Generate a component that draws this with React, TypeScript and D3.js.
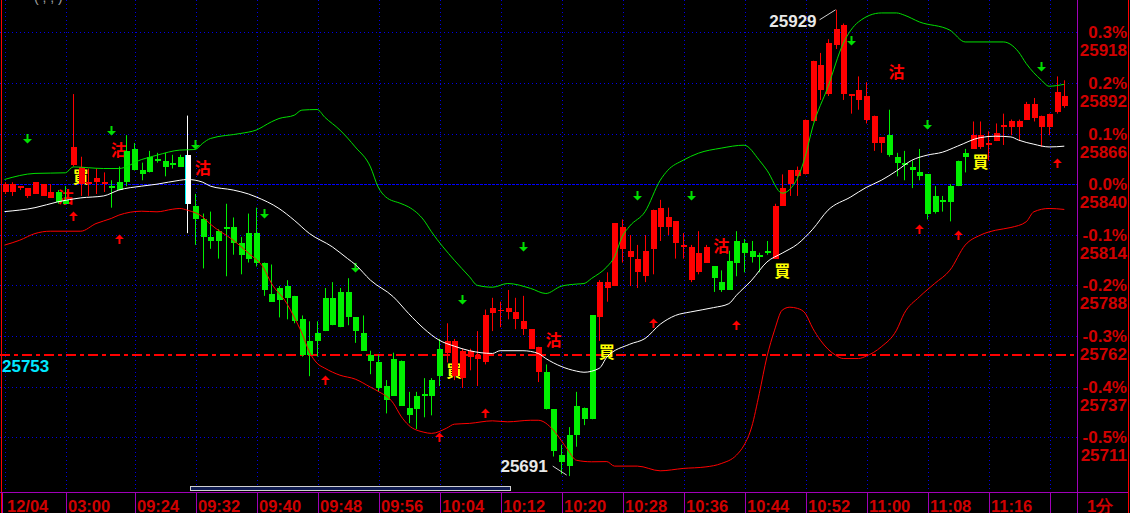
import React, { useEffect } from 'react';
import * as d3 from 'd3';

const basePrice = 25840;
const refLinePrice = 25753;
const highMark = { i: 109, p: 25929 };
const lowMark = { i: 74, p: 25691 };
const highlightIndex = 24;

const opens = [25836,25836,25838,25834,25835,25834,25833,25836,25832,25850,25840,25840,25841,25840,25839,25841,25857,25858,25847,25854,25853,25852,25851,25854,25855,25829,25822,25813,25816,25818,25818,25810,25815,25815,25800,25784,25787,25788,25783,25771,25760,25764,25782,25782,25785,25785,25772,25764,25753,25749,25737,25751,25750,25726,25732,25733,25740,25756,25754,25742,25741,25752,25751,25749,25774,25776,25775,25771,25766,25756,25744,25744,25725,25702,25712,25727,25726,25773,25772,25787,25788,25807,25803,25795,25793,25807,25818,25818,25810,25808,25791,25795,25800,25798,25790,25801,25811,25810,25806,25804,25806,25802,25829,25840,25844,25845,25872,25888,25886,25911,25886,25885,25883,25873,25861,25861,25865,25854,25851,25849,25846,25845,25834,25832,25839,25852,25856,25858,25859,25860,25862,25869,25869,25869,25873,25874,25869,25869,25877,25880];
const highs = [25841,25841,25839,25838,25841,25840,25840,25837,25839,25886,25854,25848,25848,25846,25842,25849,25865,25861,25851,25857,25856,25856,25855,25855,25875,25835,25825,25826,25817,25830,25823,25813,25825,25828,25800,25799,25788,25791,25783,25773,25770,25770,25787,25790,25787,25792,25772,25773,25755,25753,25740,25754,25750,25734,25734,25741,25741,25761,25769,25761,25756,25756,25765,25776,25782,25780,25786,25782,25783,25766,25757,25748,25725,25707,25716,25734,25726,25773,25791,25795,25820,25822,25814,25809,25814,25827,25832,25828,25821,25815,25809,25816,25809,25798,25796,25806,25816,25812,25811,25805,25811,25830,25845,25847,25849,25873,25903,25907,25914,25929,25922,25886,25895,25892,25875,25864,25878,25856,25857,25852,25858,25845,25839,25834,25840,25852,25858,25872,25872,25867,25871,25876,25873,25873,25882,25884,25875,25876,25895,25893];
const lows = [25835,25834,25837,25833,25835,25834,25833,25830,25830,25849,25834,25834,25835,25836,25828,25837,25839,25847,25842,25846,25851,25844,25848,25849,25815,25809,25797,25807,25802,25793,25804,25794,25800,25798,25783,25780,25772,25771,25769,25752,25742,25752,25765,25768,25767,25768,25759,25755,25743,25734,25723,25732,25727,25718,25715,25721,25722,25737,25749,25740,25736,25745,25737,25748,25765,25767,25771,25766,25763,25756,25739,25725,25701,25692,25691,25706,25717,25720,25760,25780,25788,25800,25788,25787,25790,25794,25811,25814,25802,25802,25790,25794,25800,25785,25785,25786,25793,25795,25800,25795,25804,25802,25829,25834,25834,25845,25872,25883,25885,25909,25883,25876,25878,25871,25857,25856,25854,25844,25842,25838,25842,25822,25825,25826,25821,25839,25846,25858,25858,25852,25862,25860,25865,25862,25873,25872,25859,25865,25876,25879];
const closes = [25840,25840,25839,25838,25841,25840,25836,25831,25830,25859,25849,25841,25843,25841,25838,25837,25841,25847,25845,25846,25852,25849,25850,25849,25830,25822,25813,25811,25811,25817,25810,25804,25802,25800,25786,25780,25781,25782,25770,25753,25753,25760,25765,25768,25767,25772,25765,25755,25750,25736,25730,25732,25727,25722,25725,25732,25732,25742,25760,25760,25755,25755,25753,25773,25777,25776,25777,25775,25770,25766,25757,25725,25704,25698,25696,25712,25720,25720,25790,25790,25820,25818,25806,25802,25806,25827,25828,25823,25821,25809,25808,25805,25808,25792,25786,25786,25800,25805,25803,25803,25805,25829,25838,25847,25847,25873,25903,25901,25912,25919,25921,25886,25888,25885,25875,25864,25855,25851,25850,25847,25844,25825,25826,25831,25831,25839,25854,25865,25865,25861,25866,25870,25872,25872,25881,25881,25875,25876,25887,25885];

const upperBand: [number, number][] = [[0,25842.4],[4,25845.5],[8,25845.8],[9,25848.8],[13,25848],[15,25848],[18,25852.6],[20,25854.8],[23,25857.4],[25,25857.7],[26,25860.9],[27,25863.3],[31,25865.9],[33,25867.6],[35,25871.8],[36,25873.5],[38,25875.2],[39,25877.8],[41,25878.1],[42,25874.2],[44,25867.6],[46,25859],[48,25848.8],[49,25838.6],[50,25833.5],[52,25830.1],[53,25828.4],[55,25821.6],[56,25815.7],[59,25801.2],[61,25792.7],[62,25788.4],[64,25787.4],[66,25789.3],[69,25786.8],[71,25784.2],[73,25787.9],[75,25789],[76,25789.3],[77,25791.9],[79,25797.8],[80,25802.9],[81,25813.1],[82,25818.6],[84,25825.9],[86,25842],[87,25847.1],[89,25852.2],[91,25855.8],[94,25858.4],[97,25859.9],[99,25852.2],[100,25847.1],[102,25835.4],[104,25843.1],[105,25853.9],[106,25869.2],[108,25889.7],[110,25911.8],[111,25918.6],[112,25922.8],[115,25927.4],[117,25927.4],[118,25926.3],[120,25922.8],[124,25918.6],[126,25912.6],[131,25912.6],[133,25907.5],[134,25901.6],[136,25893.1],[137,25890],[139,25891]];
const middleBand: [number, number][] = [[0,25826],[4,25828],[7,25831],[10,25833],[13,25834],[15,25837],[18,25839],[20,25840],[23,25842],[24,25842.4],[26,25841],[27,25839],[30,25837],[32,25835],[33,25833.5],[36,25827.6],[38,25821.6],[40,25814.8],[43,25808],[45,25802],[46,25799],[48,25791],[51,25782.5],[53,25774],[55,25766.3],[57,25760.4],[59,25757.3],[61,25755],[64,25753.6],[65,25755],[68,25755],[70,25753.6],[71,25751],[73,25747],[75,25744.6],[76,25744],[78,25746],[79,25751.7],[82,25758.3],[84,25761.2],[86,25768.5],[88,25773],[90,25774.8],[93,25777],[95,25779],[96,25783.3],[98,25791],[100,25800.3],[102,25804.8],[104,25809.4],[106,25817],[108,25826.7],[111,25833.5],[113,25838.3],[115,25842],[117,25846.8],[119,25852.2],[121,25854.8],[123,25856.3],[125,25859.4],[128,25863.8],[130,25864.5],[132,25864.1],[133,25862.5],[135,25860.4],[137,25859],[139,25859.4]];
const lowerBand: [number, number][] = [[0,25808.9],[2,25811.4],[4,25814.8],[6,25816],[10,25816],[12,25819.9],[14,25822.5],[15,25824.2],[18,25826.2],[20,25825.9],[22,25827.2],[23,25827.6],[24,25826.7],[26,25823.3],[27,25819.6],[30,25811.4],[32,25804.8],[34,25797.1],[35,25789.5],[37,25779.3],[38,25772.1],[39,25764],[40,25754.3],[41,25748.6],[42,25746.1],[44,25742.5],[46,25740.5],[48,25736.4],[49,25734.3],[51,25728.2],[52,25721.6],[53,25717],[55,25713.4],[56,25712.8],[58,25715.5],[59,25717.5],[61,25717.9],[64,25719.2],[66,25718.7],[69,25719.5],[70,25719.5],[72,25714.4],[73,25709.3],[74,25703.7],[75,25699.1],[77,25698.3],[79,25698.4],[80,25696.1],[83,25696.1],[86,25693.7],[89,25694.9],[92,25695.7],[94,25697.4],[96,25701.7],[97,25706.8],[98,25716.1],[99,25733.2],[100,25751.9],[101,25765.5],[102,25775.7],[103,25777.2],[104,25776.6],[105,25774.2],[106,25766.5],[107,25760.4],[108,25755.8],[109,25752.7],[110,25751],[112,25751],[113,25752.2],[115,25757],[117,25765.5],[118,25774],[120,25782.5],[122,25789.3],[124,25796.1],[126,25808.9],[128,25814],[130,25816.5],[132,25817.9],[134,25820.8],[135,25825.9],[137,25827.6],[139,25827.1]];

const sellMarks: [number, number][] = [[8,25834],[15,25858],[26,25849],[72,25761],[94,25809],[117,25898]];
const buyMarks: [number, number][] = [[10,25844],[59,25745],[79,25755],[102,25796],[128,25852]];
const downArrows: [number, number][] = [[3,25863],[14,25867],[25,25860],[34,25825],[46,25797],[60,25781],[68,25808],[83,25834],[90,25834],[111,25913],[121,25870],[136,25900]];
const upArrows: [number, number][] = [[9,25824],[15,25812],[42,25740],[57,25711],[63,25723],[85,25769],[96,25768],[120,25817],[125,25814],[138,25851]];

const pctValues = [0.3, 0.2, 0.1, 0, -0.1, -0.2, -0.3, -0.4, -0.5];
const pctLabels = ['0.3%', '0.2%', '0.1%', '0.0%', '-0.1%', '-0.2%', '-0.3%', '-0.4%', '-0.5%'];
const priceLabels = ['25918', '25892', '25866', '25840', '25814', '25788', '25762', '25737', '25711'];
const timeSepIndex = [0, 8, 17, 25, 33, 41, 49, 57, 65, 73, 81, 89, 97, 105, 113, 121, 129, 137];
const timeLabels = ['12/04', '03:00', '09:24', '09:32', '09:40', '09:48', '09:56', '10:04', '10:12', '10:20', '10:28', '10:36', '10:44', '10:52', '11:00', '11:08', '11:16', ''];
const periodLabel = '1分';

export default function App() {
  useEffect(() => {
    document.body.style.margin = '0';
    document.body.style.background = '#000';
  }, []);

  const W = 1130, H = 513;
  const plotR = 1077;
  const axisY = 492;
  const x = d3.scaleLinear().domain([0, opens.length - 1]).range([4.5, 1064.3]);
  const y = d3.scaleLinear().domain([basePrice * 0.995, basePrice * 1.003]).range([437.3, 32.3]);
  const line = d3.line<[number, number]>().x(d => x(d[0])).y(d => y(d[1])).curve(d3.curveMonotoneX);
  const font = "'Liberation Sans', Arial, sans-serif";
  const axisRed = '#d00000';
  const purple = '#a000b8';

  const hx = x(highMark.i), hy = y(highMark.p);
  const lx = x(lowMark.i), ly = y(lowMark.p);
  const refY = Math.round(y(refLinePrice));

  return (
    <svg width={W} height={H} style={{ position: 'absolute', left: 0, top: 0, display: 'block', background: '#000' }}>
      <rect x={0} y={0} width={W} height={H} fill="#000" />
      <text x={34} y={1.5} fill="#a0a0a0" fontFamily={font} fontSize={14}>(  ,  ,  )</text>
      {pctValues.map((p, k) => {
        const gy = Math.round(y(basePrice * (1 + p / 100))) + 0.5;
        return (
          <line key={'h' + k} x1={0} x2={plotR} y1={gy} y2={gy}
            stroke={p === 0 ? '#0000ff' : '#0000e8'} strokeWidth={1}
            strokeDasharray={p === 0 ? '3,1' : '1,3'} />
        );
      })}
      {timeSepIndex.map((ti, k) => {
        const gx = Math.floor(x(ti) + 1.2) + 0.5;
        return <line key={'v' + k} x1={gx} x2={gx} y1={0} y2={axisY} stroke="#0000e8" strokeDasharray="1,3" />;
      })}
      <line x1={0} x2={plotR} y1={refY} y2={refY} stroke="#ff0000" strokeWidth={2} strokeDasharray="10,4,4,4" />

      {sellMarks.map(([i, p], k) => (
        <text key={'s' + k} x={x(i)} y={y(p)} fill="#ff0000" fontFamily="'Noto Sans CJK TC', sans-serif"
          fontSize={16} fontWeight="bold" textAnchor="middle" dominantBaseline="central">沽</text>
      ))}
      {buyMarks.map(([i, p], k) => (
        <text key={'b' + k} x={x(i)} y={y(p)} fill="#ffff00" fontFamily="'Noto Sans CJK TC', sans-serif"
          fontSize={16} fontWeight="bold" textAnchor="middle" dominantBaseline="central">買</text>
      ))}
      {downArrows.map(([i, p], k) => {
        const cx = Math.round(x(i)) + 0.5, cy = Math.round(y(p));
        return <path key={'da' + k} fill="#00e000"
          d={`M${cx - 1},${cy - 5} L${cx + 1},${cy - 5} L${cx + 1},${cy} L${cx + 4.5},${cy} L${cx},${cy + 4.5} L${cx - 4.5},${cy} L${cx - 1},${cy} Z`} />;
      })}
      {upArrows.map(([i, p], k) => {
        const cx = Math.round(x(i)) + 0.5, cy = Math.round(y(p));
        return <path key={'ua' + k} fill="#ff0000"
          d={`M${cx - 1},${cy + 5} L${cx + 1},${cy + 5} L${cx + 1},${cy} L${cx + 4.5},${cy} L${cx},${cy - 4.5} L${cx - 4.5},${cy} L${cx - 1},${cy} Z`} />;
      })}

      {opens.map((o, i) => {
        const c = closes[i];
        const xc = Math.round(x(i));
        const col = i === highlightIndex ? '#ffffff' : c >= o ? '#ff0000' : '#00f000';
        const t = Math.round(y(Math.max(o, c)));
        const b = Math.round(y(Math.min(o, c)));
        return (
          <g key={'c' + i}>
            <line x1={xc + 0.5} x2={xc + 0.5} y1={y(highs[i])} y2={y(lows[i])} stroke={col} strokeWidth={1} />
            <rect x={xc - 2} y={t} width={6} height={Math.max(1, b - t)} fill={col} />
            {i === highlightIndex && <rect x={xc - 2} y={t} width={1} height={Math.max(1, b - t)} fill="#00ffff" />}
          </g>
        );
      })}

      <path d={line(upperBand) || ''} fill="none" stroke="#00e000" strokeWidth={1} />
      <path d={line(middleBand) || ''} fill="none" stroke="#ffffff" strokeWidth={1} />
      <path d={line(lowerBand) || ''} fill="none" stroke="#ff0000" strokeWidth={1} />

      <line x1={hx - 16} y1={hy + 10} x2={hx} y2={hy} stroke="#d0d0d0" strokeWidth={1} />
      <text x={hx - 19} y={hy + 17} fill="#e8e8e8" fontFamily={font} fontWeight="bold" fontSize={17} textAnchor="end">{highMark.p}</text>
      <line x1={lx - 16} y1={ly - 10} x2={lx - 2} y2={ly - 1} stroke="#d0d0d0" strokeWidth={1} />
      <text x={lx - 21} y={ly - 4} fill="#e8e8e8" fontFamily={font} fontWeight="bold" fontSize={17} textAnchor="end">{lowMark.p}</text>

      <text x={2} y={y(refLinePrice) + 17} fill="#00e8ff" fontFamily={font} fontWeight="bold" fontSize={17}>{refLinePrice}</text>

      <rect x={190.5} y={486.5} width={320} height={4} fill="#101c50" stroke="#d0d0d0" strokeWidth={1} />

      <rect x={plotR} y={0} width={W - plotR} height={H} fill="#000" />
      <rect x={0} y={axisY} width={W} height={H - axisY} fill="#000" />
      <line x1={1.5} x2={1.5} y1={0} y2={H} stroke="#ff0000" />
      <line x1={1128.5} x2={1128.5} y1={0} y2={H} stroke="#ff0000" />
      <line x1={plotR + 0.5} x2={plotR + 0.5} y1={0} y2={H} stroke={purple} />
      <line x1={0} x2={1128} y1={axisY + 0.5} y2={axisY + 0.5} stroke={purple} />
      {pctValues.map((p, k) => {
        const gy = y(basePrice * (1 + p / 100));
        return (
          <g key={'pl' + k}>
            <text x={1127} y={gy + 6} fill={axisRed} fontFamily={font} fontWeight="bold" fontSize={17} textAnchor="end">{pctLabels[k]}</text>
            <text x={1127} y={gy + 24} fill={axisRed} fontFamily={font} fontWeight="bold" fontSize={17} textAnchor="end">{priceLabels[k]}</text>
          </g>
        );
      })}
      {timeSepIndex.map((ti, k) => {
        const sx = k === 0 ? 2.5 : Math.floor(x(ti) + 1.2) + 0.5;
        return (
          <g key={'t' + k}>
            <line x1={sx} x2={sx} y1={axisY} y2={H} stroke={purple} />
            <text x={k === 0 ? 7 : sx + 1.5} y={511.5} fill={axisRed} fontFamily={font} fontWeight="bold" fontSize={16.5}>{timeLabels[k]}</text>
          </g>
        );
      })}
      <text x={1100} y={511.5} fill={axisRed} fontFamily={font} fontWeight="bold" fontSize={16.5} textAnchor="middle">{periodLabel}</text>
    </svg>
  );
}
